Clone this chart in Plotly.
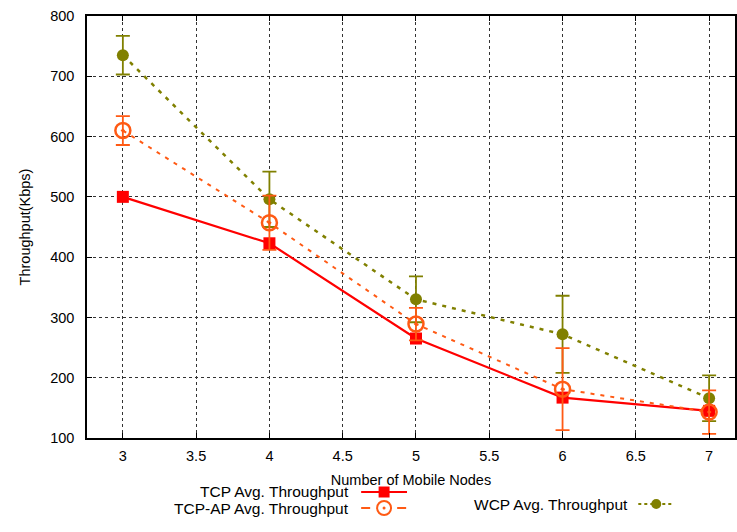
import plotly.graph_objects as go

# Number of mobile nodes
nodes = [3, 4, 5, 6, 7]

# Average throughput (Kbps) per protocol
tcp = [500, 423, 265, 167, 145]
tcp_ap = [610, 457, 289, 181, 143]
tcp_ap_err = [24, 45, 27, 68, 36]
wcp = [735, 496, 330, 272, 166]
wcp_err = [32, 46, 38, 64, 38]

series_names = ["TCP Avg. Throughput", "TCP-AP Avg. Throughput", "WCP Avg. Throughput"]

x_ticks = [3, 3.5, 4, 4.5, 5, 5.5, 6, 6.5, 7]
y_ticks = [100, 200, 300, 400, 500, 600, 700, 800]

RED = "#ff0000"
ORANGE = "#ff5a14"
OLIVE = "#808000"
FONT = "Liberation Sans, Arial, Helvetica, sans-serif"

W, H = 737, 532
ML, MR, MT, MB = 87, 0, 16, 94
PW, PH = W - ML - MR, H - MT - MB

fig = go.Figure()

fig.add_trace(go.Scatter(
    x=nodes, y=wcp, name=series_names[2], mode="lines+markers",
    line=dict(color=OLIVE, width=2.5, dash="4px,6px"),
    marker=dict(symbol="circle", size=12, color=OLIVE),
    error_y=dict(type="data", array=wcp_err, color=OLIVE, thickness=1.8, width=7),
))
fig.add_trace(go.Scatter(
    x=nodes, y=tcp, name=series_names[0], mode="lines+markers",
    line=dict(color=RED, width=2.2),
    marker=dict(symbol="square", size=12, color=RED),
))
fig.add_trace(go.Scatter(
    x=nodes, y=tcp_ap, name=series_names[1], mode="lines+markers",
    line=dict(color=ORANGE, width=2, dash="4px,6px"),
    marker=dict(symbol="circle-open-dot", size=15, color=ORANGE, line=dict(width=2.5, color=ORANGE)),
    error_y=dict(type="data", array=tcp_ap_err, color=ORANGE, thickness=1.8, width=7),
))

# Gnuplot-style key below the plot: right-aligned titles with samples to the right
def px(x):
    return (x - ML) / PW

def py(y):
    return (H - MB - y) / PH

shapes = []
annotations = []
key_entries = [
    # (title, text right x, y, sample x0, sample x1, color, dash, kind)
    (series_names[0], 352, 492, 362, 408, RED, "solid", "square"),
    (series_names[1], 352, 508, 362, 408, ORANGE, "dash", "circledot"),
    (series_names[2], 632, 504, 640, 676, OLIVE, "dot", "circle"),
]

for title, tx, ty, sx0, sx1, col, dash, kind in key_entries:
    annotations.append(dict(
        text=title, xref="paper", yref="paper", x=px(tx), y=py(ty),
        xanchor="right", yanchor="middle", showarrow=False,
        font=dict(family=FONT, size=15.5, color="black"),
    ))
    shapes.append(dict(
        type="line", xref="paper", yref="paper", x0=px(sx0), x1=px(sx1),
        y0=py(ty), y1=py(ty), line=dict(color=col, width=2.2, dash=dash),
    ))
    cx = (sx0 + sx1) / 2
    if kind == "square":
        shapes.append(dict(type="rect", xref="paper", yref="paper",
                           x0=px(cx - 5.5), x1=px(cx + 5.5), y0=py(ty + 5.5), y1=py(ty - 5.5),
                           fillcolor=col, line=dict(width=0)))
    elif kind == "circle":
        shapes.append(dict(type="circle", xref="paper", yref="paper",
                           x0=px(cx - 5), x1=px(cx + 5), y0=py(ty + 5), y1=py(ty - 5),
                           fillcolor=col, line=dict(width=0)))
    else:
        shapes.append(dict(type="circle", xref="paper", yref="paper",
                           x0=px(cx - 7), x1=px(cx + 7), y0=py(ty + 7), y1=py(ty - 7),
                           fillcolor="white", line=dict(color=col, width=2)))
        shapes.append(dict(type="circle", xref="paper", yref="paper",
                           x0=px(cx - 1.5), x1=px(cx + 1.5), y0=py(ty + 1.5), y1=py(ty - 1.5),
                           fillcolor=col, line=dict(width=0)))

fig.update_layout(
    width=W, height=H,
    margin=dict(l=ML, r=MR, t=MT, b=MB),
    paper_bgcolor="white", plot_bgcolor="white",
    showlegend=False,
    font=dict(family=FONT, size=14.5, color="black"),
    shapes=shapes, annotations=annotations,
)
fig.update_xaxes(
    range=[2.7554, 7.1766], tickvals=x_ticks, ticktext=[f"{v:g}" for v in x_ticks],
    showgrid=True, gridcolor="#333333", griddash="dot", gridwidth=1,
    showline=True, linecolor="black", linewidth=1.5, mirror="ticks",
    ticks="inside", ticklen=5, tickcolor="black", zeroline=False,
    ticklabelstandoff=4,
    title=dict(text="Number of Mobile Nodes", font=dict(size=14.5), standoff=12),
)
fig.update_yaxes(
    range=[100, 800], tickvals=y_ticks,
    showgrid=True, gridcolor="#333333", griddash="dot", gridwidth=1,
    showline=True, linecolor="black", linewidth=1.5, mirror="ticks",
    ticks="inside", ticklen=5, tickcolor="black", zeroline=False,
    ticklabelstandoff=8,
    title=dict(text="Throughput(Kbps)", font=dict(size=14.5), standoff=16),
)

fig.write_html("out.html")
